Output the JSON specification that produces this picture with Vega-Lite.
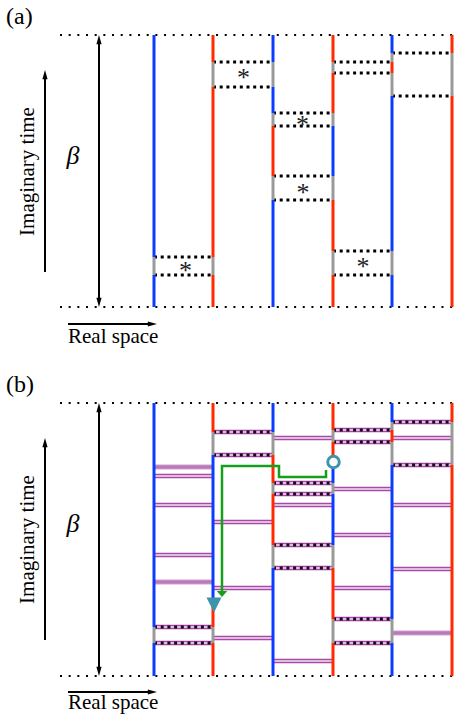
{
  "$schema": "https://vega.github.io/schema/vega-lite/v6.json",
  "width": 456,
  "height": 714,
  "autosize": {"type": "none"},
  "padding": 0,
  "background": "white",
  "config": {"view": {"stroke": null}},
  "datasets": {
    "bounds": [
      {"xa": 60, "xb": 456, "y": 35},
      {"xa": 60, "xb": 456, "y": 307},
      {"xa": 60, "xb": 456, "y": 403},
      {"xa": 60, "xb": 456, "y": 676}
    ],
    "pairsA": [
      {"xa": 154, "xb": 213, "y": 257}, {"xa": 154, "xb": 213, "y": 275},
      {"xa": 213, "xb": 273, "y": 62}, {"xa": 213, "xb": 273, "y": 87},
      {"xa": 273, "xb": 333, "y": 113}, {"xa": 273, "xb": 333, "y": 126},
      {"xa": 273, "xb": 333, "y": 176}, {"xa": 273, "xb": 333, "y": 200},
      {"xa": 333, "xb": 392, "y": 62}, {"xa": 333, "xb": 392, "y": 73},
      {"xa": 333, "xb": 392, "y": 251}, {"xa": 333, "xb": 392, "y": 275},
      {"xa": 392, "xb": 452, "y": 53}, {"xa": 392, "xb": 452, "y": 96}
    ],
    "bondsB": [
      {"xa": 154, "xb": 213, "y": 627, "kind": "pair"}, {"xa": 154, "xb": 213, "y": 643, "kind": "pair"},
      {"xa": 213, "xb": 273, "y": 432, "kind": "pair"}, {"xa": 213, "xb": 273, "y": 455, "kind": "pair"},
      {"xa": 273, "xb": 333, "y": 483, "kind": "pair"}, {"xa": 273, "xb": 333, "y": 494, "kind": "pair"},
      {"xa": 273, "xb": 333, "y": 545, "kind": "pair"}, {"xa": 273, "xb": 333, "y": 568, "kind": "pair"},
      {"xa": 333, "xb": 392, "y": 430, "kind": "pair"}, {"xa": 333, "xb": 392, "y": 442, "kind": "pair"},
      {"xa": 333, "xb": 392, "y": 619, "kind": "pair"}, {"xa": 333, "xb": 392, "y": 643, "kind": "pair"},
      {"xa": 392, "xb": 452, "y": 422, "kind": "pair"}, {"xa": 392, "xb": 452, "y": 465, "kind": "pair"},
      {"xa": 154, "xb": 213, "y": 467, "kind": "filled"},
      {"xa": 154, "xb": 213, "y": 476, "kind": "double"},
      {"xa": 154, "xb": 213, "y": 505, "kind": "double"},
      {"xa": 154, "xb": 213, "y": 555, "kind": "double"},
      {"xa": 154, "xb": 213, "y": 582, "kind": "filled"},
      {"xa": 213, "xb": 273, "y": 522, "kind": "double"},
      {"xa": 213, "xb": 273, "y": 588, "kind": "double"},
      {"xa": 213, "xb": 273, "y": 638, "kind": "double"},
      {"xa": 273, "xb": 333, "y": 438, "kind": "double"},
      {"xa": 273, "xb": 333, "y": 505, "kind": "double"},
      {"xa": 273, "xb": 333, "y": 661, "kind": "double"},
      {"xa": 333, "xb": 392, "y": 489, "kind": "double"},
      {"xa": 333, "xb": 392, "y": 535, "kind": "double"},
      {"xa": 333, "xb": 392, "y": 588, "kind": "double"},
      {"xa": 392, "xb": 452, "y": 438, "kind": "double"},
      {"xa": 392, "xb": 452, "y": 505, "kind": "double"},
      {"xa": 392, "xb": 452, "y": 569, "kind": "double"},
      {"xa": 392, "xb": 452, "y": 633, "kind": "filled"}
    ],
    "world": [
      {"x": 154, "y0": 35, "y1": 257, "s": "up"}, {"x": 154, "y0": 257, "y1": 275, "s": "link"}, {"x": 154, "y0": 275, "y1": 307, "s": "up"},
      {"x": 213, "y0": 35, "y1": 62, "s": "down"}, {"x": 213, "y0": 62, "y1": 87, "s": "link"}, {"x": 213, "y0": 87, "y1": 257, "s": "down"}, {"x": 213, "y0": 257, "y1": 275, "s": "link"}, {"x": 213, "y0": 275, "y1": 307, "s": "down"},
      {"x": 273, "y0": 35, "y1": 62, "s": "up"}, {"x": 273, "y0": 62, "y1": 87, "s": "link"}, {"x": 273, "y0": 87, "y1": 113, "s": "up"}, {"x": 273, "y0": 113, "y1": 126, "s": "link"}, {"x": 273, "y0": 126, "y1": 176, "s": "down"}, {"x": 273, "y0": 176, "y1": 200, "s": "link"}, {"x": 273, "y0": 200, "y1": 307, "s": "up"},
      {"x": 333, "y0": 35, "y1": 62, "s": "down"}, {"x": 333, "y0": 62, "y1": 73, "s": "link"}, {"x": 333, "y0": 73, "y1": 113, "s": "down"}, {"x": 333, "y0": 113, "y1": 126, "s": "link"}, {"x": 333, "y0": 126, "y1": 176, "s": "up"}, {"x": 333, "y0": 176, "y1": 200, "s": "link"}, {"x": 333, "y0": 200, "y1": 251, "s": "down"}, {"x": 333, "y0": 251, "y1": 275, "s": "link"}, {"x": 333, "y0": 275, "y1": 307, "s": "down"},
      {"x": 392, "y0": 35, "y1": 53, "s": "up"}, {"x": 392, "y0": 53, "y1": 62, "s": "link"}, {"x": 392, "y0": 62, "y1": 73, "s": "down"}, {"x": 392, "y0": 73, "y1": 96, "s": "link"}, {"x": 392, "y0": 96, "y1": 251, "s": "up"}, {"x": 392, "y0": 251, "y1": 275, "s": "link"}, {"x": 392, "y0": 275, "y1": 307, "s": "up"},
      {"x": 452, "y0": 35, "y1": 53, "s": "down"}, {"x": 452, "y0": 53, "y1": 96, "s": "link"}, {"x": 452, "y0": 96, "y1": 307, "s": "down"},
      {"x": 154, "y0": 403, "y1": 627, "s": "up"}, {"x": 154, "y0": 627, "y1": 643, "s": "link"}, {"x": 154, "y0": 643, "y1": 676, "s": "up"},
      {"x": 213, "y0": 403, "y1": 432, "s": "down"}, {"x": 213, "y0": 432, "y1": 455, "s": "link"}, {"x": 213, "y0": 455, "y1": 605, "s": "up"}, {"x": 213, "y0": 605, "y1": 627, "s": "down"}, {"x": 213, "y0": 627, "y1": 643, "s": "link"}, {"x": 213, "y0": 643, "y1": 676, "s": "down"},
      {"x": 273, "y0": 403, "y1": 432, "s": "up"}, {"x": 273, "y0": 432, "y1": 455, "s": "link"}, {"x": 273, "y0": 455, "y1": 483, "s": "down"}, {"x": 273, "y0": 483, "y1": 494, "s": "link"}, {"x": 273, "y0": 494, "y1": 545, "s": "down"}, {"x": 273, "y0": 545, "y1": 568, "s": "link"}, {"x": 273, "y0": 568, "y1": 676, "s": "up"},
      {"x": 333, "y0": 403, "y1": 430, "s": "down"}, {"x": 333, "y0": 430, "y1": 442, "s": "link"}, {"x": 333, "y0": 442, "y1": 456, "s": "down"}, {"x": 333, "y0": 468, "y1": 483, "s": "up"}, {"x": 333, "y0": 483, "y1": 494, "s": "link"}, {"x": 333, "y0": 494, "y1": 545, "s": "up"}, {"x": 333, "y0": 545, "y1": 568, "s": "link"}, {"x": 333, "y0": 568, "y1": 619, "s": "down"}, {"x": 333, "y0": 619, "y1": 643, "s": "link"}, {"x": 333, "y0": 643, "y1": 676, "s": "down"},
      {"x": 392, "y0": 403, "y1": 422, "s": "up"}, {"x": 392, "y0": 422, "y1": 430, "s": "link"}, {"x": 392, "y0": 430, "y1": 442, "s": "down"}, {"x": 392, "y0": 442, "y1": 465, "s": "link"}, {"x": 392, "y0": 465, "y1": 619, "s": "up"}, {"x": 392, "y0": 619, "y1": 643, "s": "link"}, {"x": 392, "y0": 643, "y1": 676, "s": "up"},
      {"x": 452, "y0": 403, "y1": 422, "s": "down"}, {"x": 452, "y0": 422, "y1": 465, "s": "link"}, {"x": 452, "y0": 465, "y1": 676, "s": "down"}
    ],
    "stars": [
      {"x": 185.5, "y": 266.5}, {"x": 243.5, "y": 73.5}, {"x": 302.5, "y": 121},
      {"x": 303, "y": 188.5}, {"x": 363, "y": 263}
    ],
    "shafts": [
      {"xa": 99, "ya": 40, "xb": 99, "yb": 302},
      {"xa": 45, "ya": 75, "xb": 45, "yb": 272},
      {"xa": 68, "ya": 324, "xb": 152, "yb": 324},
      {"xa": 99, "ya": 408, "xb": 99, "yb": 671},
      {"xa": 45, "ya": 443, "xb": 45, "yb": 640},
      {"xa": 68, "ya": 692, "xb": 152, "yb": 692}
    ],
    "heads": [
      {"x": 99, "y": 35, "dir": "up"}, {"x": 99, "y": 307, "dir": "down"},
      {"x": 45, "y": 70, "dir": "up"}, {"x": 157, "y": 324, "dir": "right"},
      {"x": 99, "y": 403, "dir": "up"}, {"x": 99, "y": 676, "dir": "down"},
      {"x": 45, "y": 438, "dir": "up"}, {"x": 157, "y": 692, "dir": "right"}
    ],
    "panels": [{"x": 6, "y": 24, "label": "(a)"}, {"x": 6, "y": 392, "label": "(b)"}],
    "betas": [{"x": 73, "y": 164, "label": "β"}, {"x": 73, "y": 532, "label": "β"}],
    "itime": [{"x": 34, "y": 171.5, "label": "Imaginary time"}, {"x": 34, "y": 539.5, "label": "Imaginary time"}],
    "rspace": [{"x": 68, "y": 343, "label": "Real space"}, {"x": 68, "y": 709, "label": "Real space"}],
    "worm": [
      {"k": 1, "x": 326, "y": 470}, {"k": 2, "x": 326, "y": 477}, {"k": 3, "x": 279, "y": 477},
      {"k": 4, "x": 279, "y": 466}, {"k": 5, "x": 222, "y": 466}, {"k": 6, "x": 222, "y": 592}
    ],
    "wormhead": [{"x": 222, "y": 597}],
    "source": [{"x": 333.5, "y": 462}],
    "sink": [{"x": 214, "y": 605}]
  },
  "layer": [
    {
      "data": {"name": "bounds"},
      "mark": {"type": "rule", "color": "black", "strokeWidth": 2, "strokeDash": [2, 6.67]},
      "encoding": {
        "x": {"field": "xa", "type": "quantitative", "scale": {"domain": [0, 456], "nice": false, "zero": false}, "axis": null},
        "x2": {"field": "xb"},
        "y": {"field": "y", "type": "quantitative", "scale": {"domain": [0, 714], "reverse": true, "nice": false, "zero": false}, "axis": null}
      }
    },
    {
      "data": {"name": "bondsB"},
      "mark": {"type": "rule", "color": "#e2bfe2", "strokeWidth": 5.5},
      "encoding": {
        "x": {"field": "xa", "type": "quantitative", "axis": null},
        "x2": {"field": "xb"},
        "y": {"field": "y", "type": "quantitative", "axis": null}
      }
    },
    {
      "data": {"name": "bondsB"},
      "transform": [{"filter": "datum.kind != 'filled'"}],
      "mark": {"type": "rule", "color": "#922392", "strokeWidth": 3.6},
      "encoding": {
        "x": {"field": "xa", "type": "quantitative", "axis": null},
        "x2": {"field": "xb"},
        "y": {"field": "y", "type": "quantitative", "axis": null}
      }
    },
    {
      "data": {"name": "bondsB"},
      "transform": [{"filter": "datum.kind == 'filled'"}],
      "mark": {"type": "rule", "color": "#b97ab9", "strokeWidth": 3.4},
      "encoding": {
        "x": {"field": "xa", "type": "quantitative", "axis": null},
        "x2": {"field": "xb"},
        "y": {"field": "y", "type": "quantitative", "axis": null}
      }
    },
    {
      "data": {"name": "bondsB"},
      "transform": [{"filter": "datum.kind != 'filled'"}],
      "mark": {"type": "rule", "color": "#fbf0fb", "strokeWidth": 1.3},
      "encoding": {
        "x": {"field": "xa", "type": "quantitative", "axis": null},
        "x2": {"field": "xb"},
        "y": {"field": "y", "type": "quantitative", "axis": null}
      }
    },
    {
      "data": {"name": "bondsB"},
      "transform": [{"filter": "datum.kind == 'pair'"}],
      "mark": {"type": "rule", "color": "#1a0820", "strokeWidth": 3, "strokeDash": [3, 3.7]},
      "encoding": {
        "x": {"field": "xa", "type": "quantitative", "axis": null},
        "x2": {"field": "xb"},
        "y": {"field": "y", "type": "quantitative", "axis": null}
      }
    },
    {
      "data": {"name": "pairsA"},
      "mark": {"type": "rule", "color": "black", "strokeWidth": 3, "strokeDash": [3, 3.7]},
      "encoding": {
        "x": {"field": "xa", "type": "quantitative", "axis": null},
        "x2": {"field": "xb"},
        "y": {"field": "y", "type": "quantitative", "axis": null}
      }
    },
    {
      "data": {"name": "world"},
      "mark": {"type": "rule", "strokeWidth": 3, "strokeCap": "butt"},
      "encoding": {
        "x": {"field": "x", "type": "quantitative", "axis": null},
        "y": {"field": "y0", "type": "quantitative", "axis": null},
        "y2": {"field": "y1"},
        "color": {"field": "s", "type": "nominal", "scale": {"domain": ["up", "down", "link"], "range": ["#0a3cff", "#ff2a00", "#9a9a9a"]}, "legend": null}
      }
    },
    {
      "data": {"name": "stars"},
      "mark": {"type": "text", "text": "*", "font": "Liberation Serif, Times New Roman, Times, serif", "fontSize": 26, "align": "center", "baseline": "alphabetic", "dy": 12, "color": "#222222"},
      "encoding": {
        "x": {"field": "x", "type": "quantitative", "axis": null},
        "y": {"field": "y", "type": "quantitative", "axis": null}
      }
    },
    {
      "data": {"name": "shafts"},
      "mark": {"type": "rule", "color": "black", "strokeWidth": 2},
      "encoding": {
        "x": {"field": "xa", "type": "quantitative", "axis": null},
        "y": {"field": "ya", "type": "quantitative", "axis": null},
        "x2": {"field": "xb"},
        "y2": {"field": "yb"}
      }
    },
    {
      "data": {"name": "heads"},
      "mark": {"type": "point", "filled": true, "color": "black", "size": 64, "opacity": 1},
      "encoding": {
        "x": {"field": "x", "type": "quantitative", "axis": null},
        "y": {"field": "y", "type": "quantitative", "axis": null},
        "shape": {"field": "dir", "type": "nominal", "scale": {"domain": ["up", "down", "right"], "range": ["M0,0L0.65,2.3L-0.65,2.3Z", "M0,0L0.65,-2.3L-0.65,-2.3Z", "M0,0L-2.3,0.65L-2.3,-0.65Z"]}, "legend": null}
      }
    },
    {
      "data": {"name": "panels"},
      "mark": {"type": "text", "font": "Liberation Serif, Times New Roman, Times, serif", "fontSize": 24, "align": "left", "baseline": "alphabetic", "color": "black"},
      "encoding": {
        "x": {"field": "x", "type": "quantitative", "axis": null},
        "y": {"field": "y", "type": "quantitative", "axis": null},
        "text": {"field": "label"}
      }
    },
    {
      "data": {"name": "betas"},
      "mark": {"type": "text", "font": "Liberation Serif, Times New Roman, Times, serif", "fontSize": 26, "fontStyle": "italic", "align": "center", "baseline": "alphabetic", "color": "black"},
      "encoding": {
        "x": {"field": "x", "type": "quantitative", "axis": null},
        "y": {"field": "y", "type": "quantitative", "axis": null},
        "text": {"field": "label"}
      }
    },
    {
      "data": {"name": "itime"},
      "mark": {"type": "text", "font": "Liberation Serif, Times New Roman, Times, serif", "fontSize": 21, "angle": 270, "align": "center", "baseline": "alphabetic", "color": "black"},
      "encoding": {
        "x": {"field": "x", "type": "quantitative", "axis": null},
        "y": {"field": "y", "type": "quantitative", "axis": null},
        "text": {"field": "label"}
      }
    },
    {
      "data": {"name": "rspace"},
      "mark": {"type": "text", "font": "Liberation Serif, Times New Roman, Times, serif", "fontSize": 21, "align": "left", "baseline": "alphabetic", "color": "black"},
      "encoding": {
        "x": {"field": "x", "type": "quantitative", "axis": null},
        "y": {"field": "y", "type": "quantitative", "axis": null},
        "text": {"field": "label"}
      }
    },
    {
      "data": {"name": "worm"},
      "mark": {"type": "line", "color": "#169e1c", "strokeWidth": 2.5, "strokeJoin": "miter", "strokeCap": "butt"},
      "encoding": {
        "x": {"field": "x", "type": "quantitative", "axis": null},
        "y": {"field": "y", "type": "quantitative", "axis": null},
        "order": {"field": "k", "type": "quantitative"}
      }
    },
    {
      "data": {"name": "wormhead"},
      "mark": {"type": "point", "filled": true, "color": "#169e1c", "size": 100, "opacity": 1, "shape": "M0,0L1.05,-1.2L-1.05,-1.2Z"},
      "encoding": {
        "x": {"field": "x", "type": "quantitative", "axis": null},
        "y": {"field": "y", "type": "quantitative", "axis": null}
      }
    },
    {
      "data": {"name": "sink"},
      "mark": {"type": "point", "filled": true, "color": "#3d94ab", "size": 225, "opacity": 1, "shape": "M0,1L1,-1L-1,-1Z"},
      "encoding": {
        "x": {"field": "x", "type": "quantitative", "axis": null},
        "y": {"field": "y", "type": "quantitative", "axis": null}
      }
    },
    {
      "data": {"name": "source"},
      "mark": {"type": "point", "filled": false, "shape": "circle", "stroke": "#3d94ab", "fill": "white", "fillOpacity": 1, "strokeWidth": 3, "size": 132, "opacity": 1},
      "encoding": {
        "x": {"field": "x", "type": "quantitative", "axis": null},
        "y": {"field": "y", "type": "quantitative", "axis": null}
      }
    }
  ]
}
